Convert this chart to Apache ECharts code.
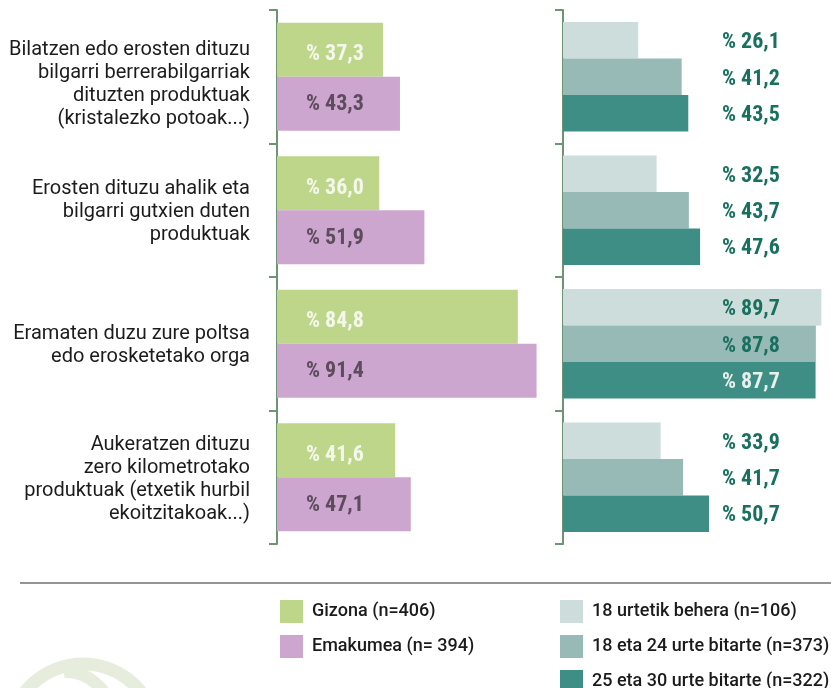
<!DOCTYPE html>
<html>
<head>
<meta charset="utf-8">
<script src="https://cdn.jsdelivr.net/npm/echarts@6/dist/echarts.min.js"></script>
<style>
  html, body { margin: 0; padding: 0; background: #ffffff; }
  #chart { width: 831px; height: 688px; }
</style>
</head>
<body>
<div id="chart"></div>
<script>
// Survey questions (one row per habit)
const categories = [
  "Bilatzen edo erosten dituzu\nbilgarri berrerabilgarriak\ndituzten produktuak\n(kristalezko potoak...)",
  "Erosten dituzu ahalik eta\nbilgarri gutxien duten\nproduktuak",
  "Eramaten duzu zure poltsa\nedo erosketetako orga",
  "Aukeratzen dituzu\nzero kilometrotako\nproduktuak (etxetik hurbil\nekoitzitakoak...)"
];

// By gender (%)
const genderNames = ["Gizona (n=406)", "Emakumea (n= 394)"];
const gizona   = [37.3, 36.0, 84.8, 41.6];
const emakumea = [43.3, 51.9, 91.4, 47.1];

// By age group (%)
const ageNames = [
  "18 urtetik behera (n=106)",
  "18 eta 24 urte bitarte (n=373)",
  "25 eta 30 urte bitarte (n=322)"
];
const adinaGazte  = [26.1, 32.5, 89.7, 33.9];
const adina18_24  = [41.2, 43.7, 87.8, 41.7];
const adina25_30  = [43.5, 47.6, 87.7, 50.7];

const FONT = "Roboto, 'Noto Sans', sans-serif";
const NUM_FONT = "'Roboto Condensed', 'Liberation Sans Narrow', Roboto, sans-serif";
const AXIS_COLOR = '#6e9474';

const pct = v => '% ' + v.toFixed(1).replace('.', ',');

const chart = echarts.init(document.getElementById('chart'), null, { renderer: 'canvas' });

function catAxis(gridIndex, showLabels) {
  return {
    type: 'category',
    gridIndex: gridIndex,
    data: categories,
    inverse: true,
    axisLine: { show: true, lineStyle: { color: AXIS_COLOR, width: 2 } },
    axisTick: { show: true, length: 8, lineStyle: { color: AXIS_COLOR, width: 2 } },
    axisLabel: {
      show: showLabels,
      margin: 27,
      fontFamily: FONT,
      fontSize: 20,
      lineHeight: 23,
      color: '#1c1c1c',
      align: 'right',
      // a thin spacer line on top nudges each block down; the first one a bit more
      formatter: (value, index) => (index === 0 ? '{padL| }' : '{padS| }') + '\n' + value,
      rich: {
        padL: { fontSize: 1, lineHeight: 16 },
        padS: { fontSize: 1, lineHeight: 4 }
      }
    }
  };
}

function valAxis(gridIndex) {
  return { type: 'value', gridIndex: gridIndex, min: 0, max: 100, show: false };
}

function barLabel(x, color, dy) {
  return {
    show: true,
    position: [x, '50%'],
    offset: [0, dy],
    align: 'left',
    verticalAlign: 'middle',
    fontFamily: NUM_FONT,
    fontSize: 22,
    fontWeight: 'bold',
    color: color,
    formatter: p => pct(typeof p.value === 'number' ? p.value : p.data.value)
  };
}

// Dark bars: a value long enough to run under its label gets a light label
const darkData = adina25_30.map(v => v > 55
  ? { value: v, label: { color: '#e6f0ec' } }
  : v);

const legendText = { fontFamily: FONT, fontSize: 18, fontWeight: 500, color: '#1b1b1b', padding: [0, 0, 0, 4] };

const option = {
  backgroundColor: '#ffffff',
  animation: false,
  grid: [
    { left: 277, top: 10, width: 284, height: 534, outerBoundsMode: 'none' },
    { left: 563, top: 10, width: 288, height: 534, outerBoundsMode: 'none' }
  ],
  xAxis: [valAxis(0), valAxis(1)],
  yAxis: [catAxis(0, true), catAxis(1, false)],
  legend: [
    {
      data: genderNames,
      left: 280, top: 600, height: 120, padding: 0,
      orient: 'vertical',
      icon: 'rect', itemWidth: 23, itemHeight: 23, itemGap: 12,
      selectedMode: false,
      textStyle: legendText
    },
    {
      data: ageNames,
      left: 560, top: 600, height: 120, padding: 0,
      orient: 'vertical',
      icon: 'rect', itemWidth: 23, itemHeight: 23, itemGap: 12,
      selectedMode: false,
      textStyle: legendText
    }
  ],
  series: [
    {
      name: genderNames[0], type: 'bar', xAxisIndex: 0, yAxisIndex: 0,
      data: gizona, barGap: '0%', barCategoryGap: '19%',
      itemStyle: { color: '#bed68a' },
      label: barLabel(29, '#f4f7ec', 5)
    },
    {
      name: genderNames[1], type: 'bar', xAxisIndex: 0, yAxisIndex: 0,
      data: emakumea, barGap: '0%', barCategoryGap: '19%',
      itemStyle: { color: '#cca6ce' },
      label: barLabel(29, '#5d4c5d', 1)
    },
    {
      name: ageNames[0], type: 'bar', xAxisIndex: 1, yAxisIndex: 1,
      data: adinaGazte, barGap: '0%', barCategoryGap: '18%',
      itemStyle: { color: '#cddddb' },
      label: barLabel(159, '#19705f', 2.5)
    },
    {
      name: ageNames[1], type: 'bar', xAxisIndex: 1, yAxisIndex: 1,
      data: adina18_24, barGap: '0%', barCategoryGap: '18%',
      itemStyle: { color: '#98bab6' },
      label: barLabel(159, '#19705f', 2.5)
    },
    {
      name: ageNames[2], type: 'bar', xAxisIndex: 1, yAxisIndex: 1,
      data: darkData, barGap: '0%', barCategoryGap: '18%',
      itemStyle: { color: '#3f8e85' },
      label: barLabel(159, '#19705f', 2)
    }
  ],
  graphic: [
    // rule above the legend
    {
      type: 'line', z: 1,
      shape: { x1: 20, y1: 583, x2: 831, y2: 583 },
      style: { stroke: '#707070', lineWidth: 1.5 }
    },
    // faint leaf emblem in the corner
    {
      type: 'circle', z: 0, silent: true,
      shape: { cx: 83, cy: 738, r: 74 },
      style: { fill: 'none', stroke: '#e7eddc', lineWidth: 13 }
    },
    {
      type: 'bezierCurve', z: 0, silent: true,
      shape: { x1: 64, y1: 672, x2: 110, y2: 700, cpx1: 90, cpy1: 670 },
      style: { fill: 'none', stroke: '#e7eddc', lineWidth: 12 }
    }
  ]
};

chart.setOption(option);
</script>
</body>
</html>
